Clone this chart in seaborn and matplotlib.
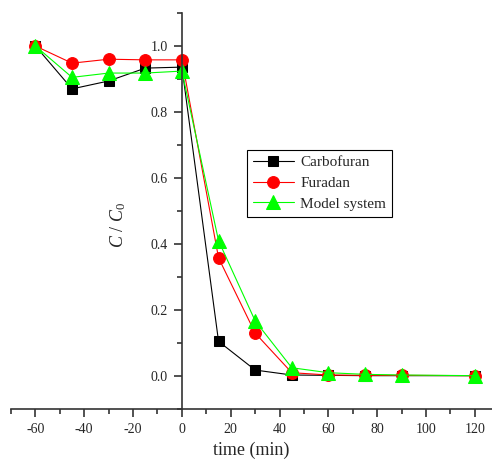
import numpy as np
import pandas as pd
import matplotlib
matplotlib.use("Agg")
import matplotlib.pyplot as plt
import seaborn as sns
from matplotlib.ticker import MultipleLocator

sns.set_theme(style="white")
plt.rcParams['font.family'] = ['Liberation Serif', 'DejaVu Serif']
plt.rcParams['mathtext.fontset'] = 'custom'
plt.rcParams['mathtext.rm'] = 'Liberation Serif'
plt.rcParams['mathtext.it'] = 'Liberation Serif:italic'

time = [-60, -45, -30, -15, 0, 15, 30, 45, 60, 75, 90, 120]
carbofuran = [1.0, 0.87, 0.894, 0.933, 0.936, 0.105, 0.018, 0.003, 0.002, 0.001, 0.001, 0.001]
furadan = [1.0, 0.948, 0.96, 0.958, 0.958, 0.358, 0.13, 0.01, 0.003, 0.002, 0.002, 0.001]
model_system = [1.0, 0.905, 0.918, 0.918, 0.924, 0.41, 0.167, 0.025, 0.01, 0.005, 0.003, 0.001]

series = {
    "Carbofuran": (carbofuran, "black", "s", 7.5),
    "Furadan": (furadan, "#ff0000", "o", 8.5),
    "Model system": (model_system, "#00ff00", "^", 9.5),
}

fig = plt.figure(figsize=(4.92, 4.59), dpi=100)
ax = fig.add_axes([11 / 492, 50 / 459, 481 / 492, 396 / 459])

for name, (vals, col, mk, ms) in series.items():
    df = pd.DataFrame({"time": time, "C": vals})
    sns.lineplot(data=df, x="time", y="C", ax=ax, color=col, marker=mk,
                 markersize=ms, markeredgecolor=col, linewidth=0.8, label=name)

ax.set_xlim(-70, 127)
ax.set_ylim(-0.1, 1.1)
ax.spines['left'].set_position(('data', 0))
ax.spines['top'].set_visible(False)
ax.spines['right'].set_visible(False)
for s in ['left', 'bottom']:
    ax.spines[s].set_color('#333333')
    ax.spines[s].set_linewidth(1.2)

ax.set_xticks([-60, -40, -20, 0, 20, 40, 60, 80, 100, 120])
ax.set_xticklabels(["-60", "-40", "-20", "0", "20", "40", "60", "80", "100", "120"])
ax.xaxis.set_minor_locator(MultipleLocator(10))
ax.set_yticks([0.0, 0.2, 0.4, 0.6, 0.8, 1.0])
ax.yaxis.set_minor_locator(MultipleLocator(0.1))
ax.set_yticklabels(["0.0", "0.2", "0.4", "0.6", "0.8", "1.0"])
ax.tick_params(axis='both', which='major', direction='out', length=6, width=1.2,
               labelsize=10, color='#333333', bottom=True, left=True, pad=4)
ax.tick_params(axis='both', which='minor', direction='out', length=3.5, width=1.2,
               color='#333333', bottom=True, left=True)

ax.set_xlabel("time (min)", fontsize=13, labelpad=4)
ax.set_ylabel(r"$C$ / $C_0$", fontsize=13)
ax.yaxis.set_label_coords(0.243, 0.465)

leg = ax.legend(loc='upper left', bbox_to_anchor=(0.49, 0.655), borderaxespad=0,
                fontsize=11, frameon=True, fancybox=False, handlelength=2.7,
                handletextpad=0.4, labelspacing=0.45, borderpad=0.4,
                edgecolor='black', framealpha=1)
leg.get_frame().set_linewidth(0.8)

fig.savefig("out.png", dpi=100)
